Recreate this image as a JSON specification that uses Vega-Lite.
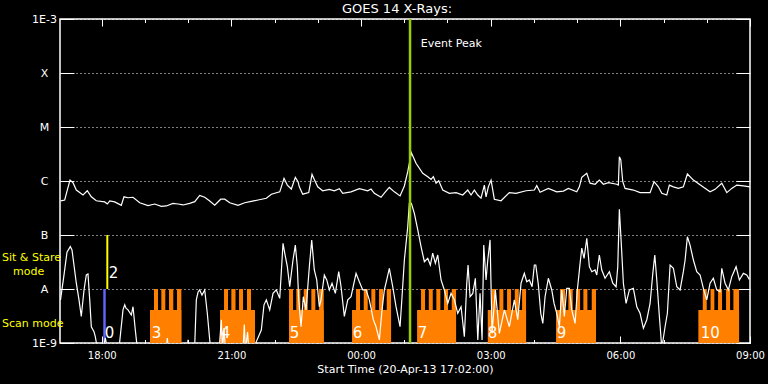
{
  "$schema": "https://vega.github.io/schema/vega-lite/v6.json",
  "width": 690,
  "height": 324,
  "autosize": {"type": "none"},
  "padding": {"left": 60, "top": 19, "right": 18, "bottom": 41},
  "background": "black",
  "title": {"text": "GOES 14 X-Rays:", "color": "white", "font": "DejaVu Sans", "fontSize": 13, "fontWeight": "normal", "anchor": "middle", "offset": -3, "dx": -8},
  "config": {
    "view": {"stroke": "white", "strokeWidth": 1.5},
    "axis": {"domain": false, "labelFont": "DejaVu Sans", "titleFont": "DejaVu Sans", "labelColor": "white", "titleColor": "white", "tickColor": "white", "gridColor": "white", "gridDash": [1, 3], "gridOpacity": 1, "labelFlush": false, "labelOverlap": false, "titleFontWeight": "normal", "tickWidth": 1, "grid": false}
  },
  "datasets": {
    "scan": [
      {"block": 3, "t0": 19.116, "t1": 19.841, "top": 4.1e-9},
      {"block": 3, "t0": 19.209, "t1": 19.301, "top": 1e-8},
      {"block": 3, "t0": 19.378, "t1": 19.470, "top": 1e-8},
      {"block": 3, "t0": 19.556, "t1": 19.655, "top": 1e-8},
      {"block": 3, "t0": 19.741, "t1": 19.841, "top": 1e-8},
      {"block": 4, "t0": 20.736, "t1": 21.546, "top": 4.1e-9},
      {"block": 4, "t0": 20.829, "t1": 20.921, "top": 1e-8},
      {"block": 4, "t0": 20.998, "t1": 21.095, "top": 1e-8},
      {"block": 4, "t0": 21.176, "t1": 21.269, "top": 1e-8},
      {"block": 4, "t0": 21.361, "t1": 21.454, "top": 1e-8},
      {"block": 5, "t0": 22.333, "t1": 23.136, "top": 4.1e-9},
      {"block": 5, "t0": 22.333, "t1": 22.426, "top": 1e-8},
      {"block": 5, "t0": 22.502, "t1": 22.595, "top": 1e-8},
      {"block": 5, "t0": 22.673, "t1": 22.766, "top": 1e-8},
      {"block": 5, "t0": 22.849, "t1": 22.942, "top": 1e-8},
      {"block": 5, "t0": 23.028, "t1": 23.136, "top": 1e-8},
      {"block": 6, "t0": 23.791, "t1": 24.694, "top": 4.1e-9},
      {"block": 6, "t0": 23.884, "t1": 23.976, "top": 1e-8},
      {"block": 6, "t0": 24.062, "t1": 24.154, "top": 1e-8},
      {"block": 6, "t0": 24.238, "t1": 24.330, "top": 1e-8},
      {"block": 6, "t0": 24.416, "t1": 24.509, "top": 1e-8},
      {"block": 6, "t0": 24.594, "t1": 24.694, "top": 1e-8},
      {"block": 7, "t0": 25.296, "t1": 26.198, "top": 4.1e-9},
      {"block": 7, "t0": 25.388, "t1": 25.481, "top": 1e-8},
      {"block": 7, "t0": 25.567, "t1": 25.659, "top": 1e-8},
      {"block": 7, "t0": 25.742, "t1": 25.835, "top": 1e-8},
      {"block": 7, "t0": 25.920, "t1": 26.013, "top": 1e-8},
      {"block": 7, "t0": 26.098, "t1": 26.198, "top": 1e-8},
      {"block": 8, "t0": 26.932, "t1": 27.818, "top": 4.1e-9},
      {"block": 8, "t0": 27.024, "t1": 27.124, "top": 1e-8},
      {"block": 8, "t0": 27.200, "t1": 27.293, "top": 1e-8},
      {"block": 8, "t0": 27.378, "t1": 27.471, "top": 1e-8},
      {"block": 8, "t0": 27.557, "t1": 27.649, "top": 1e-8},
      {"block": 8, "t0": 27.726, "t1": 27.818, "top": 1e-8},
      {"block": 9, "t0": 28.512, "t1": 29.437, "top": 4.1e-9},
      {"block": 9, "t0": 28.604, "t1": 28.720, "top": 1e-8},
      {"block": 9, "t0": 28.797, "t1": 28.898, "top": 1e-8},
      {"block": 9, "t0": 28.975, "t1": 29.068, "top": 1e-8},
      {"block": 9, "t0": 29.144, "t1": 29.237, "top": 1e-8},
      {"block": 9, "t0": 29.338, "t1": 29.437, "top": 1e-8},
      {"block": 10, "t0": 31.805, "t1": 32.747, "top": 4.1e-9},
      {"block": 10, "t0": 31.907, "t1": 31.999, "top": 1e-8},
      {"block": 10, "t0": 32.087, "t1": 32.175, "top": 1e-8},
      {"block": 10, "t0": 32.261, "t1": 32.353, "top": 1e-8},
      {"block": 10, "t0": 32.446, "t1": 32.539, "top": 1e-8},
      {"block": 10, "t0": 32.616, "t1": 32.747, "top": 1e-8}
    ],
    "stare": [
      {"mode": "scan0", "t0": 18.035, "t1": 18.091, "top": 1e-8, "bottom": 1e-9, "c": "#6464ff"},
      {"mode": "stare2", "t0": 18.105, "t1": 18.151, "top": 1e-7, "bottom": 1e-8, "c": "#ffff00"}
    ],
    "long": [
      {"t": 17.05, "f": 4.27e-7}, {"t": 17.142, "f": 4.45e-7}, {"t": 17.202, "f": 6.8e-7}, {"t": 17.265, "f": 1.04e-6},
      {"t": 17.334, "f": 9.3e-7}, {"t": 17.411, "f": 6.8e-7}, {"t": 17.566, "f": 5.5e-7}, {"t": 17.665, "f": 6.6e-7},
      {"t": 17.758, "f": 5.1e-7}, {"t": 17.873, "f": 4.3e-7}, {"t": 18.068, "f": 4.1e-7}, {"t": 18.128, "f": 3.75e-7},
      {"t": 18.184, "f": 4.27e-7}, {"t": 18.299, "f": 4.1e-7}, {"t": 18.452, "f": 3.55e-7}, {"t": 18.514, "f": 5.1e-7},
      {"t": 18.607, "f": 4.9e-7}, {"t": 18.723, "f": 5.0e-7}, {"t": 18.878, "f": 3.95e-7}, {"t": 19.07, "f": 3.5e-7},
      {"t": 19.225, "f": 3.75e-7}, {"t": 19.378, "f": 3.4e-7}, {"t": 19.493, "f": 3.45e-7}, {"t": 19.648, "f": 3.85e-7},
      {"t": 19.764, "f": 3.75e-7}, {"t": 19.88, "f": 3.6e-7}, {"t": 20.035, "f": 3.85e-7}, {"t": 20.151, "f": 4.15e-7},
      {"t": 20.266, "f": 5.4e-7}, {"t": 20.382, "f": 5.0e-7}, {"t": 20.498, "f": 4.27e-7}, {"t": 20.613, "f": 3.55e-7},
      {"t": 20.752, "f": 4.6e-7}, {"t": 20.845, "f": 4.6e-7}, {"t": 20.961, "f": 3.95e-7}, {"t": 21.153, "f": 3.55e-7},
      {"t": 21.308, "f": 3.95e-7}, {"t": 21.461, "f": 4.2e-7}, {"t": 21.616, "f": 4.45e-7}, {"t": 21.808, "f": 4.8e-7},
      {"t": 21.924, "f": 5.7e-7}, {"t": 22.118, "f": 6.3e-7}, {"t": 22.155, "f": 7.8e-7}, {"t": 22.217, "f": 1.12e-6},
      {"t": 22.294, "f": 8.4e-7}, {"t": 22.386, "f": 7.1e-7}, {"t": 22.479, "f": 1.17e-6}, {"t": 22.541, "f": 9.7e-7},
      {"t": 22.571, "f": 7.8e-7}, {"t": 22.65, "f": 5.7e-7}, {"t": 22.789, "f": 6.1e-7}, {"t": 22.865, "f": 1.33e-6},
      {"t": 22.918, "f": 1.07e-6}, {"t": 22.997, "f": 7.8e-7}, {"t": 23.113, "f": 6.6e-7}, {"t": 23.266, "f": 7.0e-7},
      {"t": 23.381, "f": 6.6e-7}, {"t": 23.497, "f": 7.2e-7}, {"t": 23.576, "f": 5.9e-7}, {"t": 23.768, "f": 6.3e-7},
      {"t": 23.96, "f": 7.2e-7}, {"t": 24.154, "f": 6.6e-7}, {"t": 24.231, "f": 7.1e-7}, {"t": 24.307, "f": 5.9e-7},
      {"t": 24.462, "f": 5.0e-7}, {"t": 24.562, "f": 6.3e-7}, {"t": 24.654, "f": 7.6e-7}, {"t": 24.77, "f": 6.3e-7},
      {"t": 24.902, "f": 5.3e-7}, {"t": 25.002, "f": 8.1e-7}, {"t": 25.08, "f": 1.49e-6}, {"t": 25.164, "f": 3.34e-6},
      {"t": 25.272, "f": 2.13e-6}, {"t": 25.427, "f": 1.39e-6}, {"t": 25.543, "f": 1.2e-6}, {"t": 25.62, "f": 1.07e-6},
      {"t": 25.673, "f": 1.2e-6}, {"t": 25.735, "f": 9.1e-7}, {"t": 25.797, "f": 1.01e-6}, {"t": 25.89, "f": 6.8e-7},
      {"t": 26.043, "f": 5.9e-7}, {"t": 26.198, "f": 6.1e-7}, {"t": 26.353, "f": 5.5e-7}, {"t": 26.469, "f": 6.8e-7},
      {"t": 26.545, "f": 5.5e-7}, {"t": 26.621, "f": 6.8e-7}, {"t": 26.7, "f": 5.5e-7}, {"t": 26.776, "f": 4.8e-7},
      {"t": 26.853, "f": 8.4e-7}, {"t": 26.892, "f": 5.1e-7}, {"t": 26.945, "f": 7.8e-7}, {"t": 27.008, "f": 1.04e-6},
      {"t": 27.084, "f": 4.6e-7}, {"t": 27.239, "f": 4.3e-7}, {"t": 27.431, "f": 6.1e-7}, {"t": 27.587, "f": 5.9e-7},
      {"t": 27.818, "f": 6.6e-7}, {"t": 28.01, "f": 6.8e-7}, {"t": 28.066, "f": 8.2e-7}, {"t": 28.142, "f": 6.2e-7},
      {"t": 28.334, "f": 7.3e-7}, {"t": 28.528, "f": 6.3e-7}, {"t": 28.681, "f": 6.5e-7}, {"t": 28.797, "f": 7.3e-7},
      {"t": 28.991, "f": 6.3e-7}, {"t": 29.051, "f": 7.8e-7}, {"t": 29.107, "f": 1.17e-6}, {"t": 29.223, "f": 1.39e-6},
      {"t": 29.299, "f": 9.1e-7}, {"t": 29.415, "f": 8.7e-7}, {"t": 29.514, "f": 1.04e-6}, {"t": 29.607, "f": 8.7e-7},
      {"t": 29.723, "f": 9.3e-7}, {"t": 29.917, "f": 8.7e-7}, {"t": 29.954, "f": 8.4e-7}, {"t": 29.977, "f": 2.82e-6},
      {"t": 30.01, "f": 2.45e-6}, {"t": 30.056, "f": 9.7e-7}, {"t": 30.109, "f": 7.3e-7}, {"t": 30.301, "f": 6.8e-7},
      {"t": 30.456, "f": 6.1e-7}, {"t": 30.688, "f": 6.1e-7}, {"t": 30.78, "f": 9.7e-7}, {"t": 30.88, "f": 7.8e-7},
      {"t": 30.959, "f": 5.9e-7}, {"t": 31.074, "f": 5.5e-7}, {"t": 31.134, "f": 8.4e-7}, {"t": 31.227, "f": 7.8e-7},
      {"t": 31.343, "f": 7.3e-7}, {"t": 31.458, "f": 7.8e-7}, {"t": 31.551, "f": 1.35e-6}, {"t": 31.69, "f": 1.04e-6},
      {"t": 31.884, "f": 8.1e-7}, {"t": 32.076, "f": 6.3e-7}, {"t": 32.192, "f": 7.0e-7}, {"t": 32.347, "f": 9.1e-7},
      {"t": 32.463, "f": 6.1e-7}, {"t": 32.578, "f": 7.3e-7}, {"t": 32.694, "f": 8.4e-7}, {"t": 32.847, "f": 8.1e-7},
      {"t": 33.0, "f": 7.8e-7}
    ],
    "short": [
      {"t": 17.045, "f": 6.3e-9}, {"t": 17.126, "f": 1.82e-8}, {"t": 17.195, "f": 4.8e-8}, {"t": 17.272, "f": 6.1e-8},
      {"t": 17.311, "f": 5.3e-8}, {"t": 17.411, "f": 1.28e-8}, {"t": 17.473, "f": 6.3e-9}, {"t": 17.526, "f": 3.1e-9},
      {"t": 17.589, "f": 9.6e-9}, {"t": 17.642, "f": 1.82e-8}, {"t": 17.681, "f": 1.9e-8}, {"t": 17.721, "f": 6.3e-9},
      {"t": 17.758, "f": 2.0e-9}, {"t": 17.82, "f": 1.62e-9}, {"t": 17.85, "f": 1.31e-9}, {"t": 17.897, "f": 8e-10},
      {"t": 18.028, "f": 7e-10}, {"t": 18.081, "f": 1.24e-9}, {"t": 18.144, "f": 7e-10}, {"t": 18.387, "f": 7e-10},
      {"t": 18.415, "f": 1.06e-9}, {"t": 18.491, "f": 4.1e-9}, {"t": 18.531, "f": 5.1e-9}, {"t": 18.561, "f": 4.4e-9},
      {"t": 18.607, "f": 4.1e-9}, {"t": 18.684, "f": 3.3e-9}, {"t": 18.723, "f": 4.7e-9}, {"t": 18.776, "f": 1.74e-9},
      {"t": 18.822, "f": 8e-10}, {"t": 19.486, "f": 7e-10}, {"t": 19.517, "f": 1.24e-9}, {"t": 19.545, "f": 7e-10},
      {"t": 19.972, "f": 7e-10}, {"t": 19.996, "f": 1.15e-9}, {"t": 20.03, "f": 7e-10}, {"t": 20.146, "f": 7e-10},
      {"t": 20.188, "f": 6.3e-9}, {"t": 20.228, "f": 8.8e-9}, {"t": 20.266, "f": 9.6e-9}, {"t": 20.319, "f": 7.7e-9},
      {"t": 20.382, "f": 9.6e-9}, {"t": 20.442, "f": 3.55e-9}, {"t": 20.498, "f": 1.14e-9}, {"t": 20.528, "f": 7e-10},
      {"t": 20.713, "f": 7e-10}, {"t": 20.766, "f": 2.7e-9}, {"t": 20.794, "f": 7e-10}, {"t": 20.828, "f": 1.9e-9},
      {"t": 20.863, "f": 7e-10}, {"t": 21.268, "f": 7e-10}, {"t": 21.298, "f": 2.2e-9}, {"t": 21.326, "f": 7e-10},
      {"t": 21.373, "f": 1.6e-9}, {"t": 21.407, "f": 7e-10}, {"t": 21.535, "f": 7e-10}, {"t": 21.576, "f": 1.06e-9},
      {"t": 21.692, "f": 1.74e-9}, {"t": 21.754, "f": 5.1e-9}, {"t": 21.808, "f": 6.3e-9}, {"t": 21.886, "f": 4.1e-9},
      {"t": 21.963, "f": 8.3e-9}, {"t": 22.039, "f": 9.6e-9}, {"t": 22.118, "f": 6.7e-9}, {"t": 22.194, "f": 7.0e-8},
      {"t": 22.234, "f": 4.6e-8}, {"t": 22.294, "f": 2.59e-8}, {"t": 22.349, "f": 1.1e-8}, {"t": 22.425, "f": 3.44e-8},
      {"t": 22.479, "f": 6.5e-8}, {"t": 22.525, "f": 2.59e-8}, {"t": 22.557, "f": 6.3e-9}, {"t": 22.611, "f": 2.0e-9},
      {"t": 22.664, "f": 7.2e-9}, {"t": 22.726, "f": 4.1e-9}, {"t": 22.803, "f": 2.59e-8}, {"t": 22.858, "f": 8.1e-8},
      {"t": 22.918, "f": 2.25e-8}, {"t": 22.974, "f": 1.47e-8}, {"t": 23.034, "f": 4.7e-9}, {"t": 23.073, "f": 6.3e-9},
      {"t": 23.15, "f": 1.82e-8}, {"t": 23.206, "f": 1.47e-8}, {"t": 23.266, "f": 9.6e-9}, {"t": 23.328, "f": 1.28e-8},
      {"t": 23.405, "f": 8.3e-9}, {"t": 23.483, "f": 2.09e-8}, {"t": 23.537, "f": 1.1e-8}, {"t": 23.613, "f": 3.1e-9},
      {"t": 23.692, "f": 6.3e-9}, {"t": 23.768, "f": 7.2e-9}, {"t": 23.884, "f": 1.95e-8}, {"t": 23.96, "f": 1.36e-8},
      {"t": 24.039, "f": 9.6e-9}, {"t": 24.115, "f": 9.6e-9}, {"t": 24.191, "f": 6.3e-9}, {"t": 24.284, "f": 2.7e-9},
      {"t": 24.346, "f": 2.0e-9}, {"t": 24.423, "f": 1.14e-9}, {"t": 24.485, "f": 4.1e-9}, {"t": 24.539, "f": 9.6e-9},
      {"t": 24.594, "f": 1.47e-8}, {"t": 24.654, "f": 2.42e-8}, {"t": 24.733, "f": 1.1e-8}, {"t": 24.809, "f": 4.7e-9},
      {"t": 24.902, "f": 2.0e-9}, {"t": 24.948, "f": 7.2e-9}, {"t": 25.002, "f": 3.44e-8}, {"t": 25.08, "f": 1.42e-7},
      {"t": 25.117, "f": 3.86e-7}, {"t": 25.164, "f": 3.86e-7}, {"t": 25.233, "f": 2.52e-7}, {"t": 25.312, "f": 1.24e-7},
      {"t": 25.388, "f": 6.1e-8}, {"t": 25.465, "f": 3.2e-8}, {"t": 25.543, "f": 3.7e-8}, {"t": 25.603, "f": 2.78e-8},
      {"t": 25.658, "f": 4.6e-8}, {"t": 25.719, "f": 2.99e-8}, {"t": 25.774, "f": 4.26e-8}, {"t": 25.851, "f": 1.47e-8},
      {"t": 25.927, "f": 9.6e-9}, {"t": 26.006, "f": 5.4e-9}, {"t": 26.082, "f": 8.3e-9}, {"t": 26.159, "f": 6.3e-9},
      {"t": 26.237, "f": 3.55e-9}, {"t": 26.314, "f": 4.7e-9}, {"t": 26.39, "f": 1.31e-9}, {"t": 26.446, "f": 1.28e-8},
      {"t": 26.476, "f": 2.78e-8}, {"t": 26.522, "f": 7.2e-9}, {"t": 26.585, "f": 8.3e-9}, {"t": 26.645, "f": 1.58e-8},
      {"t": 26.701, "f": 1.14e-9}, {"t": 26.753, "f": 8.3e-9}, {"t": 26.8, "f": 1.14e-9}, {"t": 26.839, "f": 6.5e-8},
      {"t": 26.892, "f": 1.47e-8}, {"t": 26.932, "f": 3.44e-8}, {"t": 26.985, "f": 8.1e-8}, {"t": 27.031, "f": 1.51e-9},
      {"t": 27.107, "f": 9.6e-9}, {"t": 27.2, "f": 1.51e-9}, {"t": 27.316, "f": 4.1e-9}, {"t": 27.431, "f": 2.0e-9},
      {"t": 27.547, "f": 6.3e-9}, {"t": 27.626, "f": 2.7e-9}, {"t": 27.702, "f": 1.28e-8}, {"t": 27.778, "f": 1.95e-8},
      {"t": 27.834, "f": 1.36e-8}, {"t": 27.894, "f": 1.47e-8}, {"t": 27.957, "f": 1.1e-8}, {"t": 28.01, "f": 2.78e-8},
      {"t": 28.043, "f": 2.78e-8}, {"t": 28.103, "f": 1.19e-8}, {"t": 28.158, "f": 3.55e-9}, {"t": 28.205, "f": 2.3e-9},
      {"t": 28.258, "f": 7.2e-9}, {"t": 28.334, "f": 1.58e-8}, {"t": 28.413, "f": 9.6e-9}, {"t": 28.466, "f": 5.4e-9},
      {"t": 28.528, "f": 3.55e-9}, {"t": 28.589, "f": 2.0e-9}, {"t": 28.644, "f": 9.6e-9}, {"t": 28.704, "f": 3.1e-9},
      {"t": 28.76, "f": 1.03e-8}, {"t": 28.82, "f": 1.03e-8}, {"t": 28.876, "f": 4.1e-9}, {"t": 28.952, "f": 2.3e-9},
      {"t": 29.005, "f": 9.6e-9}, {"t": 29.068, "f": 2.99e-8}, {"t": 29.107, "f": 5.7e-8}, {"t": 29.16, "f": 3.7e-8},
      {"t": 29.223, "f": 8.7e-8}, {"t": 29.283, "f": 2.59e-8}, {"t": 29.339, "f": 2.09e-8}, {"t": 29.415, "f": 2.25e-8},
      {"t": 29.454, "f": 1.82e-8}, {"t": 29.514, "f": 4.26e-8}, {"t": 29.57, "f": 2.25e-8}, {"t": 29.646, "f": 1.58e-8},
      {"t": 29.746, "f": 2.09e-8}, {"t": 29.824, "f": 1.28e-8}, {"t": 29.901, "f": 1.1e-8}, {"t": 29.94, "f": 2.59e-8},
      {"t": 29.977, "f": 2.99e-7}, {"t": 30.017, "f": 8.1e-8}, {"t": 30.07, "f": 1.28e-8}, {"t": 30.132, "f": 5.4e-9},
      {"t": 30.209, "f": 9.6e-9}, {"t": 30.301, "f": 1.03e-8}, {"t": 30.38, "f": 4.7e-9}, {"t": 30.456, "f": 3.55e-9},
      {"t": 30.533, "f": 1.87e-9}, {"t": 30.612, "f": 2.7e-9}, {"t": 30.688, "f": 5.4e-9}, {"t": 30.751, "f": 1.95e-8},
      {"t": 30.797, "f": 4.26e-8}, {"t": 30.843, "f": 1.47e-8}, {"t": 30.903, "f": 3.1e-9}, {"t": 30.959, "f": 8e-10},
      {"t": 31.035, "f": 2.0e-9}, {"t": 31.088, "f": 3.55e-9}, {"t": 31.151, "f": 2.78e-8}, {"t": 31.227, "f": 2.42e-8},
      {"t": 31.306, "f": 1.1e-8}, {"t": 31.382, "f": 9.6e-9}, {"t": 31.458, "f": 2.09e-8}, {"t": 31.498, "f": 3.44e-8},
      {"t": 31.551, "f": 9.3e-8}, {"t": 31.613, "f": 6.5e-8}, {"t": 31.69, "f": 3.44e-8}, {"t": 31.768, "f": 2.09e-8},
      {"t": 31.845, "f": 1.82e-8}, {"t": 31.921, "f": 1.03e-8}, {"t": 31.999, "f": 6.3e-9}, {"t": 32.076, "f": 1.28e-8},
      {"t": 32.152, "f": 1.58e-8}, {"t": 32.23, "f": 9.6e-9}, {"t": 32.307, "f": 8.9e-9}, {"t": 32.347, "f": 2.42e-8},
      {"t": 32.423, "f": 1.28e-8}, {"t": 32.5, "f": 9.6e-9}, {"t": 32.578, "f": 1.69e-8}, {"t": 32.678, "f": 2.59e-8},
      {"t": 32.754, "f": 1.47e-8}, {"t": 32.847, "f": 1.95e-8}, {"t": 32.925, "f": 1.82e-8}, {"t": 32.985, "f": 1.51e-8}
    ],
    "numbers": [
      {"n": "0", "t": 18.068, "v": 1.24e-9}, {"n": "2", "t": 18.16, "v": 1.6e-8},
      {"n": "3", "t": 19.155, "v": 1.24e-9}, {"n": "4", "t": 20.752, "v": 1.24e-9},
      {"n": "5", "t": 22.349, "v": 1.24e-9}, {"n": "6", "t": 23.807, "v": 1.24e-9},
      {"n": "7", "t": 25.311, "v": 1.24e-9}, {"n": "8", "t": 26.932, "v": 1.24e-9},
      {"n": "9", "t": 28.528, "v": 1.24e-9}, {"n": "10", "t": 31.861, "v": 1.24e-9}
    ],
    "modes": [
      {"label": "Sit & Stare", "t": 17.0333, "v": 3.75e-8},
      {"label": "Scan mode", "t": 17.0333, "v": 2.25e-9}
    ],
    "modes2": [
      {"label": "mode", "t": 17.0333, "v": 2.07e-8}
    ],
    "peak": [{"label": "Event Peak", "t": 25.133, "tl": 25.381, "v": 3.03e-4}]
  },
  "layer": [
    {
      "data": {"name": "scan"},
      "mark": {"type": "rect", "color": "#ff8000", "clip": true},
      "encoding": {
        "x": {"field": "t0", "type": "quantitative",
          "scale": {"domain": [17.0333, 33], "nice": false, "zero": false},
          "axis": {"orient": "bottom", "values": [18, 21, 24, 27, 30, 33], "tickSize": -7, "labelPadding": 14, "labelFontSize": 10,
            "labelExpr": "(datum.value % 24 < 10 ? '0' : '') + (datum.value % 24) + ':00'",
            "title": "Start Time (20-Apr-13 17:02:00)", "titleFontSize": 11, "titlePadding": 3, "grid": false}},
        "x2": {"field": "t1"},
        "y": {"field": "top", "type": "quantitative",
          "scale": {"type": "log", "domain": [1e-9, 1e-3], "nice": false},
          "axis": {"orient": "left", "values": [1e-9, 1e-8, 1e-7, 1e-6, 1e-5, 1e-4, 1e-3], "tickSize": -14, "labelPadding": 30, "labelAlign": "center", "labelBaseline": "middle", "labelFontSize": 11,
            "labelExpr": "['1E-9','A','B','C','M','X','1E-3'][round(log(datum.value)/LN10)+9]",
            "title": null, "grid": true}},
        "y2": {"datum": 1e-9}
      }
    },
    {
      "data": {"name": "stare"},
      "mark": {"type": "rect"},
      "encoding": {
        "x": {"field": "t0", "type": "quantitative",
          "axis": {"orient": "bottom", "values": [18, 19, 20, 21, 22, 23, 24, 25, 26, 27, 28, 29, 30, 31, 32, 33], "tickSize": -3.5, "labels": false, "title": null, "grid": false}},
        "x2": {"field": "t1"},
        "y": {"field": "top", "type": "quantitative",
          "axis": {"orient": "right", "values": [1e-9, 1e-8, 1e-7, 1e-6, 1e-5, 1e-4, 1e-3], "tickSize": -14, "labels": false, "title": null, "grid": false}},
        "y2": {"field": "bottom"},
        "color": {"field": "c", "type": "nominal", "scale": null, "legend": null}
      }
    },
    {
      "data": {"name": "long"},
      "mark": {"type": "line", "color": "white", "strokeWidth": 1.2, "clip": true},
      "encoding": {
        "x": {"field": "t", "type": "quantitative",
          "axis": {"orient": "top", "values": [18, 21, 24, 27, 30, 33], "tickSize": -7, "labels": false, "title": null, "grid": false}},
        "y": {"field": "f", "type": "quantitative", "axis": null}
      }
    },
    {
      "data": {"name": "short"},
      "mark": {"type": "line", "color": "white", "strokeWidth": 1.2, "clip": true},
      "encoding": {
        "x": {"field": "t", "type": "quantitative",
          "axis": {"orient": "top", "values": [18, 19, 20, 21, 22, 23, 24, 25, 26, 27, 28, 29, 30, 31, 32, 33], "tickSize": -3.5, "labels": false, "title": null, "grid": false}},
        "y": {"field": "f", "type": "quantitative", "axis": null}
      }
    },
    {
      "data": {"name": "peak"},
      "mark": {"type": "rule", "color": "#9acd00", "strokeWidth": 2.5},
      "encoding": {
        "x": {"field": "t", "type": "quantitative", "axis": null}
      }
    },
    {
      "data": {"name": "peak"},
      "mark": {"type": "text", "color": "white", "font": "DejaVu Sans", "fontSize": 11, "align": "left", "baseline": "alphabetic"},
      "encoding": {
        "x": {"field": "tl", "type": "quantitative", "axis": null},
        "y": {"field": "v", "type": "quantitative", "axis": null},
        "text": {"field": "label"}
      }
    },
    {
      "data": {"name": "numbers"},
      "mark": {"type": "text", "color": "white", "font": "DejaVu Sans", "fontSize": 15, "align": "left", "baseline": "alphabetic"},
      "encoding": {
        "x": {"field": "t", "type": "quantitative", "axis": null},
        "y": {"field": "v", "type": "quantitative", "axis": null},
        "text": {"field": "n"}
      }
    },
    {
      "data": {"name": "modes"},
      "mark": {"type": "text", "color": "#ffff00", "font": "DejaVu Sans", "fontSize": 11, "align": "left", "baseline": "middle", "dx": -58, "clip": false},
      "encoding": {
        "x": {"field": "t", "type": "quantitative", "axis": null},
        "y": {"field": "v", "type": "quantitative", "axis": null},
        "text": {"field": "label"}
      }
    },
    {
      "data": {"name": "modes2"},
      "mark": {"type": "text", "color": "#ffff00", "font": "DejaVu Sans", "fontSize": 11, "align": "left", "baseline": "middle", "dx": -47, "clip": false},
      "encoding": {
        "x": {"field": "t", "type": "quantitative", "axis": null},
        "y": {"field": "v", "type": "quantitative", "axis": null},
        "text": {"field": "label"}
      }
    }
  ],
  "resolve": {"axis": {"x": "independent", "y": "independent"}}
}
